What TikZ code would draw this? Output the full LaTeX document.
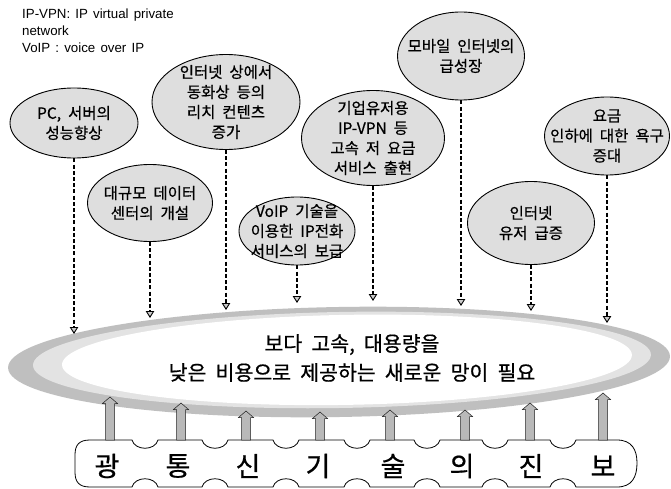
\documentclass[tikz,border=0pt]{standalone}
\usepackage{fontspec}
\setmainfont{Noto Sans CJK KR}[WordSpace=2, FakeBold=0.6]
\newfontfamily\notefont{Liberation Sans}[WordSpace=1.4]
\usetikzlibrary{shapes.geometric,arrows.meta,calc}
\newcommand\blockarr[2]{%
  \draw[fill=gray!55, draw=gray!25!black, line width=0.5pt]
    ($(#1)+(-4.5,0)$) -- ($(#2)+(-4.5,6.5)$) -- ($(#2)+(-7.5,6.5)$) -- (#2)
    -- ($(#2)+(7.5,6.5)$) -- ($(#2)+(4.5,6.5)$) -- ($(#1)+(4.5,0)$) -- cycle;}
\begin{document}
\begin{tikzpicture}[x=1pt,y=-1pt,
  ell/.style={ellipse, draw=black, line width=0.9pt, fill=gray!26, inner sep=0pt},
  ltext/.style={align=center, inner sep=0pt, font=\fontsize{15.5}{20}\selectfont},
  dash arrow/.style={line width=1.3pt, dash pattern=on 4pt off 2.2pt,
     -{Triangle[length=7pt,width=8.5pt,fill=gray!40,line width=0.9pt]}},
  chartext/.style={inner sep=0pt, font=\fontsize{27}{27}\selectfont},
]
\useasboundingbox (0,0) rectangle (671,489);
\fill[white] (0,0) rectangle (671,489);

% note
\node[anchor=north west, align=left, inner sep=0pt,
      font=\notefont\fontsize{13.3}{16.8}\selectfont] (note) at (22,9)
  {IP-VPN: IP virtual private\\network\\VoIP : voice over IP};

% big ring
\begin{scope}[rotate around={1:(339,362)}]
  \fill[gray!50] (339,362) ellipse [x radius=331, y radius=55];
  \fill[gray!22] (342,360) ellipse [x radius=309, y radius=48];
  \fill[white] (347,360) ellipse [x radius=285, y radius=45];
\end{scope}
\node[align=center, inner sep=0pt, font=\fontsize{20.5}{29}\selectfont] (big) at (352,358)
  {보다 고속, 대용량을\\낮은 비용으로 제공하는 새로운 망이 필요};

% ellipses
\node[ell, minimum width=128, minimum height=70, label={[ltext]center:PC, 서버의\\성능향상}] (e1) at (74,123) {};
\node[ell, minimum width=125, minimum height=77, label={[ltext]center:대규모 데이터\\센터의 개설}] (e2) at (150,203) {};
\node[ell, minimum width=148, minimum height=95, label={[ltext]center:인터넷 상에서\\동화상 등의\\리치 컨텐츠\\증가}] (e3) at (226,102) {};
\node[ell, minimum width=116, minimum height=68, label={[ltext]center:VoIP 기술을\\이용한 IP전화\\서비스의 보급}] (e4) at (297,231) {};
\node[ell, minimum width=143, minimum height=95, label={[ltext]center:기업유저용\\IP-VPN 등\\고속 저 요금\\서비스 출현}] (e5) at (373,138) {};
\node[ell, minimum width=127, minimum height=88, label={[ltext]center:모바일 인터넷의\\급성장}] (e6) at (461,56) {};
\node[ell, minimum width=125, minimum height=78, label={[ltext]center:요금\\인하에 대한 욕구\\증대}] (e7) at (607,136) {};
\node[ell, minimum width=127, minimum height=83, label={[ltext]center:인터넷\\유저 급증}] (e8) at (531,223) {};

% tips on ring
\coordinate (t1) at (74,334);
\coordinate (t2) at (150,318);
\coordinate (t3) at (226,310);
\coordinate (t4) at (297,303);
\coordinate (t5) at (373,301);
\coordinate (t6) at (461,306);
\coordinate (t7) at (607,323);
\coordinate (t8) at (531,311);
\foreach \i in {1,...,8} { \draw[dash arrow] (e\i.south) -- (t\i); }

% banner
\draw[line width=0.8pt, fill=white] (90,440) -- (132,440) .. controls (135,451) and (155,451) .. (158,440)
 -- (202,440) .. controls (205,451) and (225,451) .. (228,440)
 -- (273,440) .. controls (276,451) and (296,451) .. (299,440)
 -- (344,440) .. controls (347,451) and (367,451) .. (370,440)
 -- (414,440) .. controls (417,451) and (437,451) .. (440,440)
 -- (482,440) .. controls (485,451) and (505,451) .. (508,440)
 -- (550,440) .. controls (553,451) and (573,451) .. (576,440)
 -- (617,440) .. controls (632,440) and (637,450) .. (637,463) .. controls (637,477) and (632,487) .. (617,487)
 -- (576,487) .. controls (573,476) and (553,476) .. (550,487)
 -- (508,487) .. controls (505,476) and (485,476) .. (482,487)
 -- (440,487) .. controls (437,476) and (417,476) .. (414,487)
 -- (370,487) .. controls (367,476) and (347,476) .. (344,487)
 -- (299,487) .. controls (296,476) and (276,476) .. (273,487)
 -- (228,487) .. controls (225,476) and (205,476) .. (202,487)
 -- (158,487) .. controls (155,476) and (135,476) .. (132,487)
 -- (90,487) .. controls (79,487) and (75,482) .. (75,472) -- (75,455) .. controls (75,445) and (79,440) .. (90,440) -- cycle;

\node[chartext] (c1) at (107,466) {광};
\node[chartext] (c2) at (178,466) {통};
\node[chartext] (c3) at (248,466) {신};
\node[chartext] (c4) at (318,466) {기};
\node[chartext] (c5) at (393,466) {술};
\node[chartext] (c6) at (462,466) {의};
\node[chartext] (c7) at (531,466) {진};
\node[chartext] (c8) at (603,466) {보};

% block arrows
\coordinate (b1) at (110,440); \coordinate (u1) at (110,397);
\coordinate (b2) at (181,440); \coordinate (u2) at (181,403);
\coordinate (b3) at (246,440); \coordinate (u3) at (246,411);
\coordinate (b4) at (320,440); \coordinate (u4) at (320,412);
\coordinate (b5) at (390,440); \coordinate (u5) at (390,410);
\coordinate (b6) at (465,440); \coordinate (u6) at (465,410);
\coordinate (b7) at (530,440); \coordinate (u7) at (530,403);
\coordinate (b8) at (603,440); \coordinate (u8) at (603,393);
\foreach \i in {1,...,8} { \blockarr{b\i}{u\i} }
\end{tikzpicture}
\end{document}
